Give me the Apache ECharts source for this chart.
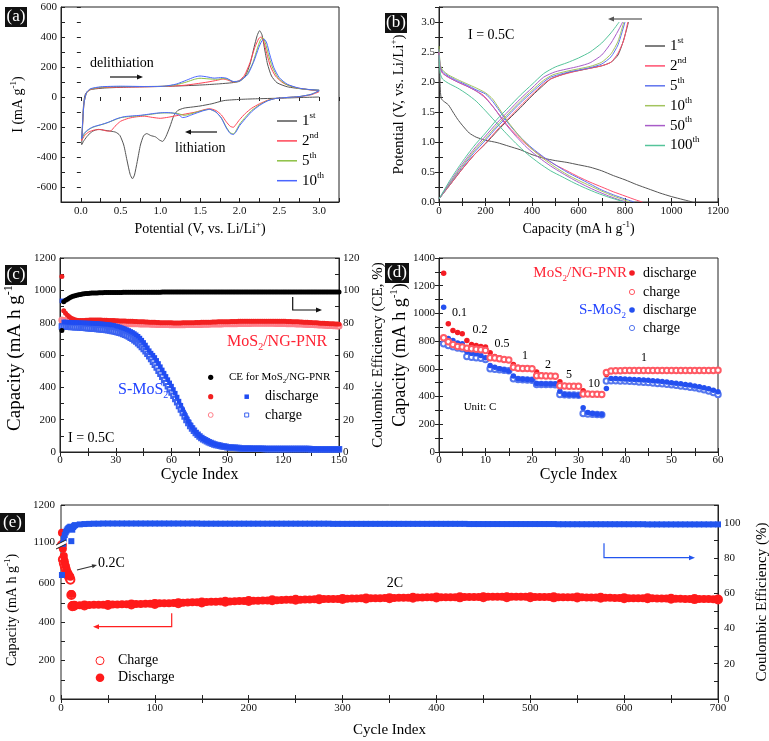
<!DOCTYPE html>
<html><head><meta charset="utf-8">
<script src="https://cdn.jsdelivr.net/npm/echarts@6/dist/echarts.min.js"></script>
<style>html,body{margin:0;padding:0;background:#fff}#c{width:769px;height:741px}</style>
</head><body><div id="c"></div><script>
// ---------------- DATA ----------------
// (a) CV curves: [potential V, current mA/g]
const cv1st = [[3.0,0],[2.8,-3],[2.5,-8],[2.2,-12],[2.0,-16],[1.8,-24],[1.65,-45],[1.5,-60],[1.4,-67],[1.3,-74],[1.22,-90],[1.17,-125],[1.12,-200],[1.07,-265],[1.03,-296],[0.99,-287],[0.94,-266],[0.88,-257],[0.83,-244],[0.79,-258],[0.75,-320],[0.71,-430],[0.675,-520],[0.65,-545],[0.62,-515],[0.58,-420],[0.54,-320],[0.49,-255],[0.44,-235],[0.38,-228],[0.3,-222],[0.22,-216],[0.15,-228],[0.09,-255],[0.04,-290],[0.01,-318],[0.02,-220],[0.03,-80],[0.05,10],[0.09,42],[0.15,52],[0.3,60],[0.6,66],[1.0,70],[1.3,75],[1.55,81],[1.75,88],[1.9,95],[2.0,105],[2.07,140],[2.13,220],[2.18,330],[2.22,410],[2.25,442],[2.28,415],[2.31,330],[2.35,220],[2.4,140],[2.47,95],[2.6,68],[2.8,53],[3.0,45]];
const cv2nd = [[3.0,35],[2.9,15],[2.75,2],[2.6,-3],[2.45,-10],[2.35,-22],[2.25,-45],[2.15,-75],[2.07,-110],[2.0,-150],[1.95,-185],[1.92,-202],[1.88,-195],[1.83,-165],[1.77,-120],[1.7,-90],[1.62,-78],[1.55,-85],[1.45,-100],[1.35,-110],[1.2,-125],[1.1,-135],[1.0,-142],[0.9,-136],[0.8,-128],[0.7,-132],[0.6,-142],[0.5,-162],[0.43,-195],[0.37,-228],[0.32,-226],[0.25,-217],[0.17,-220],[0.1,-233],[0.05,-255],[0.01,-290],[0.02,-200],[0.04,-40],[0.07,25],[0.12,50],[0.25,62],[0.5,66],[0.8,68],[1.1,72],[1.3,78],[1.45,88],[1.6,100],[1.72,112],[1.79,120],[1.85,113],[1.92,100],[1.99,108],[2.06,145],[2.13,230],[2.19,330],[2.24,390],[2.27,400],[2.3,375],[2.34,290],[2.39,200],[2.45,140],[2.55,92],[2.7,63],[2.85,50],[3.0,40]];
const cv5th = [[3.0,42],[2.9,18],[2.75,3],[2.6,-3],[2.45,-10],[2.35,-24],[2.25,-52],[2.15,-90],[2.07,-135],[2.0,-180],[1.95,-228],[1.92,-246],[1.88,-238],[1.83,-200],[1.77,-140],[1.7,-100],[1.62,-82],[1.55,-88],[1.45,-102],[1.35,-118],[1.3,-122],[1.22,-110],[1.1,-106],[1.0,-107],[0.9,-114],[0.8,-121],[0.7,-127],[0.6,-131],[0.5,-138],[0.4,-158],[0.3,-178],[0.2,-193],[0.12,-210],[0.06,-235],[0.01,-280],[0.02,-190],[0.04,-40],[0.07,25],[0.12,52],[0.25,65],[0.5,70],[0.8,70],[1.05,72],[1.2,82],[1.33,100],[1.43,118],[1.5,125],[1.6,121],[1.72,118],[1.8,124],[1.86,116],[1.93,101],[2.0,108],[2.08,140],[2.16,220],[2.22,320],[2.26,380],[2.29,395],[2.32,365],[2.36,285],[2.41,200],[2.48,130],[2.58,85],[2.72,60],[2.85,50],[3.0,45]];
const cv10th = [[3.0,42],[2.9,18],[2.75,3],[2.6,-3],[2.45,-10],[2.35,-26],[2.25,-56],[2.15,-98],[2.07,-145],[2.0,-190],[1.95,-235],[1.92,-250],[1.88,-243],[1.83,-205],[1.77,-142],[1.7,-100],[1.62,-82],[1.55,-90],[1.45,-108],[1.38,-122],[1.32,-134],[1.28,-137],[1.23,-118],[1.15,-106],[1.05,-104],[0.95,-108],[0.85,-115],[0.75,-122],[0.65,-126],[0.55,-131],[0.45,-145],[0.35,-168],[0.25,-185],[0.15,-200],[0.08,-222],[0.03,-250],[0.01,-278],[0.02,-190],[0.04,-40],[0.07,28],[0.12,55],[0.25,68],[0.5,72],[0.8,70],[1.05,72],[1.2,86],[1.33,112],[1.43,133],[1.5,140],[1.58,135],[1.68,126],[1.78,130],[1.84,124],[1.92,103],[2.0,108],[2.1,150],[2.18,240],[2.24,330],[2.28,375],[2.31,385],[2.34,360],[2.38,280],[2.43,195],[2.5,128],[2.6,85],[2.74,60],[2.87,50],[3.0,45]];

// (b) galvanostatic curves: [capacity mAh/g, potential V]
const dis1st = [[0,2.6],[3,2.2],[6,1.85],[10,1.72],[20,1.68],[40,1.62],[60,1.5],[80,1.38],[100,1.28],[130,1.15],[160,1.08],[200,1.03],[250,0.99],[300,0.93],[350,0.87],[400,0.79],[450,0.73],[500,0.69],[550,0.66],[600,0.62],[650,0.58],[700,0.52],[750,0.44],[800,0.37],[850,0.29],[900,0.22],[950,0.15],[1000,0.09],[1050,0.04],[1090,0.0]];
const cha1st = [[0,0.05],[20,0.15],[50,0.3],[100,0.55],[150,0.78],[200,0.97],[250,1.18],[300,1.38],[350,1.57],[400,1.77],[450,1.95],[480,2.05],[520,2.11],[560,2.16],[600,2.19],[650,2.23],[700,2.27],[740,2.33],[770,2.45],[790,2.65],[805,2.85],[815,3.0]];
const dis2nd = [[0,2.5],[5,2.25],[15,2.15],[40,2.08],[80,2.0],[120,1.93],[160,1.85],[190,1.78],[220,1.65],[260,1.45],[300,1.25],[350,1.05],[400,0.88],[450,0.74],[500,0.62],[550,0.52],[600,0.42],[650,0.33],[700,0.25],[750,0.17],[800,0.1],[850,0.03],[875,0.0]];
const cha2nd = [[0,0.05],[50,0.3],[100,0.55],[150,0.78],[200,0.98],[250,1.2],[300,1.4],[350,1.6],[400,1.79],[450,1.97],[480,2.05],[520,2.11],[600,2.19],[700,2.27],[740,2.33],[770,2.48],[795,2.7],[812,3.0]];
const dis5th = [[0,2.55],[5,2.28],[15,2.18],[40,2.1],[80,2.02],[120,1.95],[160,1.87],[200,1.8],[230,1.68],[260,1.52],[300,1.3],[350,1.08],[400,0.9],[450,0.75],[500,0.62],[550,0.5],[600,0.4],[650,0.3],[700,0.2],[750,0.12],[800,0.05],[840,0.0]];
const cha5th = [[0,0.05],[50,0.32],[100,0.58],[150,0.82],[200,1.03],[250,1.25],[300,1.45],[350,1.65],[400,1.83],[450,2.0],[480,2.08],[550,2.16],[650,2.24],[700,2.3],[740,2.42],[770,2.62],[800,3.0]];
const dis10th = [[0,2.6],[5,2.3],[15,2.2],[40,2.12],[80,2.04],[120,1.97],[160,1.9],[200,1.82],[230,1.72],[260,1.55],[300,1.32],[350,1.08],[400,0.88],[450,0.72],[500,0.58],[550,0.46],[600,0.36],[650,0.27],[700,0.18],[750,0.1],[800,0.03],[820,0.0]];
const cha10th = [[0,0.05],[50,0.33],[100,0.6],[150,0.85],[200,1.06],[250,1.28],[300,1.48],[350,1.68],[400,1.86],[450,2.03],[490,2.12],[550,2.18],[650,2.26],[700,2.33],[740,2.47],[770,2.68],[795,3.0]];
const dis50th = [[0,2.5],[5,2.25],[15,2.15],[40,2.08],[80,2.0],[120,1.93],[160,1.85],[200,1.73],[240,1.55],[280,1.33],[330,1.1],[380,0.9],[430,0.74],[480,0.6],[530,0.48],[580,0.37],[630,0.27],[680,0.18],[730,0.1],[780,0.03],[805,0.0]];
const cha50th = [[0,0.05],[50,0.35],[100,0.63],[150,0.88],[200,1.1],[250,1.32],[300,1.52],[350,1.72],[400,1.9],[450,2.08],[500,2.17],[600,2.26],[650,2.32],[700,2.45],[740,2.65],[770,2.85],[790,3.0]];
const dis100th = [[0,2.45],[5,2.15],[15,2.05],[40,1.98],[80,1.9],[120,1.8],[160,1.68],[200,1.52],[240,1.35],[280,1.18],[330,0.98],[380,0.8],[430,0.65],[480,0.52],[530,0.42],[580,0.32],[630,0.23],[680,0.15],[730,0.08],[780,0.02],[795,0.0]];
const cha100th = [[0,0.05],[50,0.38],[100,0.67],[150,0.93],[200,1.15],[250,1.38],[300,1.58],[350,1.78],[400,1.96],[450,2.14],[500,2.25],[550,2.32],[600,2.4],[650,2.5],[700,2.65],[740,2.82],[775,3.0]];

// (c) cycling at 0.5C, cycles 1..150
const cCE = [75.1,93.0,93.8,94.5,95.2,95.8,96.3,96.7,97.0,97.3, 97.5,97.7,97.9,98.0,98.1,98.2,98.3,98.3,98.4,98.4, 98.5,98.5,98.5,98.6,98.6,98.6,98.6,98.7,98.7,98.7, 98.7,98.7,98.7,98.8,98.8,98.8,98.8,98.8,98.8,98.8, 98.8,98.8,98.8,98.8,98.8,98.8,98.8,98.8,98.8,98.8, 98.8,98.8,98.8,98.8,98.9,98.9,98.9,98.9,98.9,98.9, 98.9,98.9,98.9,98.9,98.9,98.9,98.9,98.9,98.9,98.9, 98.9,98.9,98.9,98.9,98.9,98.9,98.9,98.9,98.9,98.9, 98.9,98.9,98.9,98.9,98.9,98.9,98.9,98.9,98.9,98.9, 98.9,98.9,98.9,98.9,98.9,98.9,98.9,98.9,98.9,98.9, 98.9,98.9,98.9,98.9,98.9,98.9,98.9,98.9,98.9,98.9, 98.9,98.9,98.9,98.9,98.9,98.9,98.9,98.9,98.9,98.9, 98.9,98.9,98.9,98.9,98.9,98.9,98.9,98.9,98.9,98.9, 98.9,98.9,98.9,98.9,98.9,98.9,98.9,98.9,98.9,98.9, 98.9,98.9,98.9,98.9,98.9,98.9,98.9,98.9,98.9,98.9];
const cNgDis = [1086,873,858,846,836,828,822,818,815,813, 813,814,814,815,815,816,816,816,816,816, 816,816,815,815,815,814,814,813,813,812, 812,811,811,810,810,809,809,808,808,807, 807,806,806,805,805,804,804,803,803,802, 802,801,801,800,800,800,799,799,799,799, 798,798,798,798,798,799,799,799,799,800, 800,800,801,801,801,802,802,802,803,803, 803,804,804,804,805,805,805,806,806,806, 806,807,807,807,807,808,808,808,808,808, 808,809,809,809,809,809,809,809,809,809, 809,809,809,809,809,809,808,808,808,808, 808,807,807,807,806,806,805,805,804,804, 803,803,802,801,801,800,799,799,798,797, 797,796,795,795,794,793,793,792,791,790];
const cNgCha = [817,814,811,808,806,804,803,802,801,800, 800,801,801,801,801,801,801,800,800,800, 800,799,799,799,798,798,798,797,797,797, 796,796,796,795,795,795,794,794,794,793, 793,793,792,792,792,791,791,791,790,790, 790,789,789,789,788,788,788,788,787,787, 787,787,787,787,787,787,787,788,788,788, 788,788,789,789,789,789,790,790,790,790, 791,791,791,792,792,792,792,793,793,793, 793,794,794,794,794,795,795,795,795,795, 795,795,796,796,796,796,796,796,796,796, 796,796,796,796,796,795,795,795,795,795, 795,794,794,794,793,793,792,792,791,791, 790,790,789,789,788,788,787,787,786,785, 785,784,784,783,782,782,781,781,780,780];
const cSDis = [935,805,804,803,803,802,802,801,801,800, 800,799,799,798,798,797,797,796,795,795, 794,793,792,791,790,789,787,785,783,780, 777,774,770,766,762,757,752,746,740,733, 725,716,705,692,678,662,645,627,612,599, 585,567,548,528,508,488,468,448,428,408, 387,364,340,315,289,262,236,212,190,170, 152,136,122,110,99,90,82,75,69,64, 58,53,49,45,42,39,37,35,33,31, 30,29,28,27,26,25,24,23,22,22, 23,22,22,22,22,21,21,21,21,21, 21,20,20,20,20,20,20,20,20,20, 20,20,19,19,19,19,19,19,19,19, 19,19,19,19,19,19,19,18,18,18, 18,18,18,18,18,18,18,18,18,18];
const cSCha = [776,775,775,774,774,773,773,772,772,771, 770,769,768,767,766,765,764,763,762,761, 760,759,758,757,755,753,751,749,747,744, 741,738,734,730,725,720,714,707,700,692, 683,673,662,650,637,623,608,592,575,558, 540,522,503,484,465,446,427,407,388,368, 348,328,307,285,263,241,219,198,179,161, 145,131,118,106,96,87,79,72,66,61, 56,51,47,44,41,38,36,34,32,30, 29,28,27,26,25,24,23,22,21,21, 21,21,20,20,20,20,20,20,20,19, 19,19,19,19,19,19,19,19,19,19, 18,18,18,18,18,18,18,18,18,18, 18,18,18,18,17,17,17,17,17,17, 17,17,17,17,17,17,17,17,17,17];

// (d) rate capability, cycles 1..60
const dNgDis = [1290,925,877,862,853,805,776,769,761,757, 716,689,680,670,665,632,612,608,605,603, 577,558,553,550,548,507,480,478,476,475, 442,421,420,419,418,560,585,588,589,590, 590,590,591,591,591,591,591,591,591,591, 591,591,591,591,591,591,591,591,591,591];
const dNgCha = [824,795,776,761,757,749,745,742,738,733, 680,678,673,668,664,612,605,603,602,600, 550,550,548,548,547,478,476,475,474,474, 418,418,417,416,415,574,584,586,587,588, 588,589,589,589,589,589,589,589,589,589, 589,589,589,589,589,589,589,589,589,590];
const dSDis = [1045,819,805,786,781,725,713,709,697,680, 625,612,600,593,584,548,528,525,523,522, 495,492,490,490,490,439,415,413,412,410, 319,285,278,273,270,459,531,530,528,527, 525,524,522,520,518,515,512,509,505,500, 496,492,488,483,477,471,464,456,446,434];
const dSCha = [781,769,760,750,745,689,684,680,676,668, 600,597,593,590,586,528,524,522,520,518, 488,488,487,487,486,415,413,412,411,410, 278,275,272,270,268,512,515,514,513,512, 510,508,506,504,501,498,495,492,489,485, 481,477,473,468,463,457,450,441,430,415];
const dRateLabels = ['0.1','0.2','0.5','1','2','5','10','1'];

// (e) long cycling: cycles 1..14 then every 5th cycle 15..700
const eDisFirst = [1125,780,743,715,692,665,655,644,640,635,545,487,487,487];
const eDisLong = [487,487,488,488,489,489,490,490,491,491, 492,492,493,493,494,495,495,496,497,497, 498,499,500,500,501,502,503,503,504,505, 505,506,507,507,508,509,509,510,511,511, 512,512,513,513,514,515,515,516,516,517, 517,518,518,519,519,520,520,521,521,522, 522,523,523,523,524,524,525,525,525,526, 526,526,527,527,527,528,528,528,529,529, 529,529,530,530,530,530,530,531,531,531, 531,531,531,531,531,531,531,531,530,530, 530,530,530,529,529,529,528,528,528,527, 527,527,526,526,526,525,525,525,524,524, 524,523,523,523,522,522,522,521,521,521, 520,520,520,519,519,519,518,518];
const eCEFirst = [70.3,88,91,93,94.5,95.5,96.3,96.9,97.3,97.7,89.5,96,97.5,98.2];
const eCELong = [98.6,99.0,99.2,99.3,99.4,99.4,99.5,99.5,99.5,99.5, 99.5,99.5,99.5,99.5,99.5,99.5,99.5,99.5,99.5,99.5, 99.5,99.5,99.5,99.5,99.5,99.5,99.5,99.4,99.4,99.4, 99.4,99.4,99.4,99.4,99.4,99.4,99.4,99.4,99.4,99.4, 99.4,99.4,99.4,99.4,99.4,99.4,99.4,99.4,99.4,99.4, 99.4,99.4,99.4,99.4,99.4,99.3,99.3,99.3,99.3,99.3, 99.3,99.3,99.3,99.3,99.3,99.3,99.3,99.3,99.3,99.3, 99.3,99.3,99.3,99.3,99.3,99.3,99.3,99.3,99.3,99.3, 99.3,99.3,99.3,99.3,99.2,99.2,99.2,99.2,99.2,99.2, 99.2,99.2,99.2,99.2,99.2,99.2,99.2,99.2,99.2,99.2, 99.2,99.2,99.2,99.1,99.1,99.1,99.1,99.1,99.1,99.1, 99.1,99.1,99.1,99.1,99.1,99.1,99.1,99.1,99.1,99.1, 99.1,99.1,99.0,99.0,99.0,99.0,99.0,99.0,99.0,99.0, 99.0,99.0,99.0,99.0,99.0,99.0,99.0,99.0];
const eChaFirst = [800,725,705,690,675,660,650,640,630,620,540,482,483,484];
const eChaLong = [486,488,491,494,498,501,505,509,513,516,518,520,522,524,526,527,528,529,529,529,528,527,526,524,523,521,519,517]; // every 25th cycle 25..700

// ---------------- BUILD ----------------
const FONT = '"Liberation Serif","Times New Roman",serif';
const AX = '#222';
function rt(fs, color) {
  color = color || '#000';
  return {
    n: {fontFamily: FONT, fontSize: fs, color: color, lineHeight: Math.round(fs * 1.3)},
    s: {fontFamily: FONT, fontSize: Math.round(fs * 0.62), color: color, verticalAlign: 'top', lineHeight: Math.round(fs * 0.8)},
    b: {fontFamily: FONT, fontSize: Math.round(fs * 0.62), color: color, verticalAlign: 'bottom', lineHeight: Math.round(fs * 0.8)}
  };
}
function fmt(step, digits, lo, hi) {
  return function (v) {
    const k = v / step;
    return (Math.abs(k - Math.round(k)) < 1e-6 && v >= lo - 1e-9 && v <= hi + 1e-9) ? (Math.abs(v) < 1e-9 ? 0 : v).toFixed(digits) : '';
  };
}
function ax(o) {
  return Object.assign({
    type: 'value', scale: false,
    axisLine: {show: true, onZero: false, lineStyle: {color: AX, width: 1}},
    axisTick: {show: true, inside: true, length: 4, lineStyle: {color: AX, width: 1}},
    axisLabel: {show: true, color: '#111', fontFamily: FONT, fontSize: 11, margin: 3},
    splitLine: {show: false}
  }, o);
}
function mir(o) { return ax(Object.assign({axisLine: {show: false}, axisLabel: {show: false}}, o)); }
function nameStyle(fs) { return {fontFamily: FONT, fontSize: fs, color: '#000', rich: rt(fs)}; }
const CAP = '{n|Capacity (mA h g}{s|-1}{n|)}';
const POT = '{n|Potential (V, vs. Li/Li}{s|+}{n|)}';

const grids = [
  {left: 61, top: 7, width: 278, height: 195},
  {left: 439, top: 7, width: 279, height: 195},
  {left: 60, top: 258, width: 279, height: 194},
  {left: 439, top: 258, width: 279, height: 194},
  {left: 61, top: 505, width: 657, height: 194},
  {left: 61, top: 545, width: 657, height: 154, show: false},
  {left: 61, top: 505, width: 657, height: 37, show: false}
].map(g => Object.assign({show: true, borderColor: AX, borderWidth: 1, backgroundColor: 'transparent', containLabel: false, outerBoundsMode: 'none'}, g));

const xAxes = [
  ax({gridIndex: 0, min: -0.25, max: 3.25, interval: 0.25, axisLabel: {color: '#111', fontFamily: FONT, fontSize: 11, margin: 4, formatter: fmt(0.5, 1, 0, 3)}, name: POT, nameLocation: 'middle', nameGap: 18, nameTextStyle: nameStyle(14)}),
  mir({gridIndex: 0, position: 'top', min: -0.25, max: 3.25, interval: 0.25}),
  ax({gridIndex: 1, min: 0, max: 1200, interval: 100, axisLabel: {color: '#111', fontFamily: FONT, fontSize: 11, margin: 4, formatter: fmt(200, 0, 0, 1200)}, name: CAP, nameLocation: 'middle', nameGap: 18, nameTextStyle: nameStyle(14)}),
  mir({gridIndex: 1, position: 'top', min: 0, max: 1200, interval: 100}),
  ax({gridIndex: 2, min: 0, max: 150, interval: 15, axisLabel: {color: '#111', fontFamily: FONT, fontSize: 11, margin: 3, formatter: fmt(30, 0, 0, 150)}, name: '{n|Cycle Index}', nameLocation: 'middle', nameGap: 12, nameTextStyle: nameStyle(16)}),
  mir({gridIndex: 2, position: 'top', min: 0, max: 150, interval: 15}),
  ax({gridIndex: 3, min: 0, max: 60, interval: 5, axisLabel: {color: '#111', fontFamily: FONT, fontSize: 11, margin: 3, formatter: fmt(10, 0, 0, 60)}, name: '{n|Cycle Index}', nameLocation: 'middle', nameGap: 12, nameTextStyle: nameStyle(16)}),
  mir({gridIndex: 3, position: 'top', min: 0, max: 60, interval: 5}),
  ax({gridIndex: 4, min: 0, max: 700, interval: 50, axisLabel: {color: '#111', fontFamily: FONT, fontSize: 11, margin: 4, formatter: fmt(100, 0, 0, 700)}, name: '{n|Cycle Index}', nameLocation: 'middle', nameGap: 21, nameTextStyle: nameStyle(15)}),
  mir({gridIndex: 4, position: 'top', min: 0, max: 700, interval: 50}),
  ax({gridIndex: 5, min: 0, max: 700, show: false}),
  ax({gridIndex: 6, min: 0, max: 700, show: false})
];
const yAxes = [
  ax({gridIndex: 0, min: -700, max: 600, interval: 100, axisLabel: {color: '#111', fontFamily: FONT, fontSize: 11, margin: 4, formatter: fmt(200, 0, -600, 600)}, name: '{n|I (mA g}{s|-1}{n|)}', nameLocation: 'middle', nameRotate: 90, nameGap: 34, nameTextStyle: nameStyle(14)}),
  mir({gridIndex: 0, position: 'right', min: -700, max: 600, interval: 100}),
  ax({gridIndex: 1, min: 0, max: 3.25, interval: 0.25, axisLabel: {color: '#111', fontFamily: FONT, fontSize: 11, margin: 4, formatter: fmt(0.5, 1, 0, 3)}, name: POT, nameLocation: 'middle', nameRotate: 90, nameGap: 30, nameTextStyle: nameStyle(15)}),
  mir({gridIndex: 1, position: 'right', min: 0, max: 3.25, interval: 0.25}),
  ax({gridIndex: 2, min: 0, max: 1200, interval: 100, axisLabel: {color: '#111', fontFamily: FONT, fontSize: 11, margin: 4, formatter: fmt(200, 0, 0, 1200)}, name: CAP, nameLocation: 'middle', nameRotate: 90, nameGap: 32, nameTextStyle: nameStyle(19)}),
  ax({gridIndex: 2, position: 'right', min: 0, max: 120, interval: 10, axisLabel: {color: '#111', fontFamily: FONT, fontSize: 11, margin: 4, formatter: fmt(20, 0, 0, 120)}, name: '{n|Coulombic Efficiency (CE, %)}', nameLocation: 'middle', nameRotate: 90, nameGap: 29, nameTextStyle: nameStyle(15)}),
  ax({gridIndex: 3, min: 0, max: 1400, interval: 100, axisLabel: {color: '#111', fontFamily: FONT, fontSize: 11, margin: 4, formatter: fmt(200, 0, 0, 1400)}, name: CAP, nameLocation: 'middle', nameRotate: 90, nameGap: 23, nameTextStyle: nameStyle(18)}),
  mir({gridIndex: 3, position: 'right', min: 0, max: 1400, interval: 100}),
  ax({gridIndex: 4, position: 'right', min: 0, max: 110, interval: 10, axisLabel: {color: '#111', fontFamily: FONT, fontSize: 11, margin: 6, formatter: fmt(20, 0, 0, 100)}, name: '{n|Coulombic Efficiency (%)}', nameLocation: 'middle', nameRotate: 90, nameGap: 34, nameTextStyle: nameStyle(15)}),
  ax({gridIndex: 5, position: 'left', min: 0, max: 800, interval: 100, axisLine: {show: false}, axisLabel: {color: '#111', fontFamily: FONT, fontSize: 11, margin: 6, formatter: fmt(200, 0, 0, 600)}}),
  ax({gridIndex: 6, position: 'left', min: 1100, max: 1200, interval: 100, axisLine: {show: false}, axisLabel: {color: '#111', fontFamily: FONT, fontSize: 11, margin: 6, formatter: fmt(100, 0, 1100, 1200)}}),
  ax({gridIndex: 4, position: 'left', min: 0, max: 1, axisLine: {show: false}, axisTick: {show: false}, axisLabel: {show: false}, name: CAP, nameLocation: 'middle', nameRotate: 90, nameGap: 40, nameTextStyle: Object.assign(nameStyle(14), {padding: [0, 16, 0, 0]})})
];

const series = [];
function line(name, xi, data, color) {
  series.push({type: 'line', name: name, xAxisIndex: xi, yAxisIndex: xi, data: data, symbol: 'none', smooth: 0.2, clip: true,
    lineStyle: {color: color, width: 1}, itemStyle: {color: color}, emphasis: {disabled: true}});
}
// (a)
line('a1', 0, cv1st, '#555555');
line('a2', 0, cv2nd, '#ff4455');
line('a5', 0, cv5th, '#8cc043');
line('a10', 0, cv10th, '#4a66ff');
// (b)
[['b1', dis1st, cha1st, '#555555'], ['b2', dis2nd, cha2nd, '#ff4f6e'], ['b5', dis5th, cha5th, '#5f73ee'],
 ['b10', dis10th, cha10th, '#a3c45e'], ['b50', dis50th, cha50th, '#a85cc8'], ['b100', dis100th, cha100th, '#55c49a']]
  .forEach(r => { line(r[0], 2, r[1], r[3]); line(r[0], 2, r[2], r[3]); });

function sc(name, xi, yi, data, symbol, size, color, z) {
  series.push({type: 'scatter', name: name, xAxisIndex: xi, yAxisIndex: yi, data: data, symbol: symbol, symbolSize: size, clip: true,
    itemStyle: {color: color, borderWidth: 1, opacity: 1}, emphasis: {disabled: true}, z: z || 2});
}
const idx = arr => arr.map((v, i) => [i + 1, v]);
// (c)
sc('cNgCha', 4, 4, idx(cNgCha), 'emptyCircle', 5, '#ff7f8a', 2);
sc('cNgDis', 4, 4, idx(cNgDis), 'circle', 5, '#f22020', 3);
sc('cSCha', 4, 4, idx(cSCha), 'emptyRect', 4.5, '#3a62f0', 4);
sc('cSDis', 4, 4, idx(cSDis), 'rect', 4.5, '#1f4cf2', 5);
sc('cCE', 4, 5, idx(cCE), 'circle', 5, '#000000', 6);
// (d)
sc('dSCha', 6, 6, idx(dSCha), 'emptyCircle', 5.5, '#5577ee', 2);
sc('dSDis', 6, 6, idx(dSDis), 'circle', 5.5, '#2450f0', 3);
sc('dNgDis', 6, 6, idx(dNgDis), 'circle', 5.5, '#f41c24', 4);
sc('dNgCha', 6, 6, idx(dNgCha), 'emptyCircle', 5.5, '#ff5a64', 5);
// (e)
const eCycFirst = eDisFirst.map((v, i) => i + 1);
const eCycLong = eDisLong.map((v, i) => 15 + 5 * i);
const eChaCycLong = eChaLong.map((v, i) => 25 + 25 * i);
const eDis = eCycFirst.map((c, i) => [c, eDisFirst[i]]).concat(eCycLong.map((c, i) => [c, eDisLong[i]]));
const eCha = eCycFirst.map((c, i) => [c, eChaFirst[i]]).concat(eChaCycLong.map((c, i) => [c, eChaLong[i]]));
const eCE = eCycFirst.map((c, i) => [c, eCEFirst[i]]).concat(eCycLong.map((c, i) => [c, eCELong[i]]));
sc('eChaLo', 10, 9, eCha, 'emptyCircle', 8, '#ff2020', 2);
sc('eDisLo', 10, 9, eDis, 'circle', 8, '#ff1a1a', 3);
sc('eChaHi', 11, 10, eCha, 'emptyCircle', 8, '#ff2020', 2);
sc('eDisHi', 11, 10, eDis, 'circle', 8, '#ff1a1a', 3);
sc('eCE', 8, 8, eCE, 'rect', 6, '#2255ee', 4);

// legends (a), (b)
const ord = n => ({1: 'st', 2: 'nd', 3: 'rd'}[n] || 'th');
function legend(left, top, names) {
  return {left: left, top: top, orient: 'vertical', icon: 'rect', itemWidth: 20, itemHeight: 1.5, itemGap: 2.4, selectedMode: false,
    data: names, formatter: nm => { const n = nm.slice(1); return '{n|' + n + '}{s|' + ord(+n) + '}'; },
    textStyle: {fontFamily: FONT, fontSize: 15, color: '#000', rich: rt(15)}};
}

// decorations
const G = [];
function txt(x, y, t, fs, color, align) {
  G.push({type: 'text', x: x, y: y, z: 100, style: {text: t, rich: rt(fs, color), align: align || 'left', verticalAlign: 'middle', fontFamily: FONT, fontSize: fs, fill: color || '#000'}});
}
function arrow(pts, color, hl, hw) {
  hl = hl || 6; hw = hw || 2.5;
  const n = pts.length, p1 = pts[n - 2], p2 = pts[n - 1];
  const dx = p2[0] - p1[0], dy = p2[1] - p1[1], L = Math.hypot(dx, dy), ux = dx / L, uy = dy / L;
  const bx = p2[0] - ux * hl, by = p2[1] - uy * hl;
  G.push({type: 'polyline', z: 100, shape: {points: pts.slice(0, n - 1).concat([[bx + ux, by + uy]])}, style: {stroke: color, lineWidth: 1.2, fill: null}});
  G.push({type: 'polygon', z: 100, shape: {points: [[p2[0], p2[1]], [bx - uy * hw, by + ux * hw], [bx + uy * hw, by - ux * hw]]}, style: {fill: color}});
}
function tag(x, y, w, h, t) {
  G.push({type: 'rect', z: 100, shape: {x: x, y: y, width: w, height: h}, style: {fill: '#111'}});
  G.push({type: 'text', z: 101, x: x + w / 2, y: y + h / 2, style: {text: t, fill: '#fff', fontFamily: FONT, fontSize: 17, align: 'center', verticalAlign: 'middle'}});
}
function dot(cx, cy, r, fill, stroke) {
  G.push({type: 'circle', z: 100, shape: {cx: cx, cy: cy, r: r}, style: {fill: fill, stroke: stroke || null, lineWidth: 1}});
}
function sq(cx, cy, s, fill, stroke) {
  G.push({type: 'rect', z: 100, shape: {x: cx - s / 2, y: cy - s / 2, width: s, height: s}, style: {fill: fill, stroke: stroke || null, lineWidth: 1}});
}
tag(5, 7, 22, 20, '(a)'); tag(385, 13, 22, 20, '(b)'); tag(5, 265, 22, 20, '(c)'); tag(385, 263, 24, 20, '(d)'); tag(0, 513, 25, 19, '(e)');
// (a)
txt(90, 63, '{n|delithiation}', 14); arrow([[110, 77], [143, 77]], '#111');
txt(175, 148, '{n|lithiation}', 14); arrow([[217, 132], [185, 132]], '#111');
// (b)
txt(468, 35, '{n|I = 0.5C}', 14); arrow([[642, 19], [608, 19]], '#555');
// (c)
txt(68, 438, '{n|I = 0.5C}', 14);
txt(118, 390, '{n|S-MoS}{b|2}', 16, '#2244ff');
txt(227, 342, '{n|MoS}{b|2}{n|/NG-PNR}', 16, '#ff2233');
arrow([[292.7, 297], [292.7, 310], [322, 310]], '#111');
dot(210.7, 377.3, 2.6, '#000'); txt(229, 377.3, '{n|CE for MoS}{b|2}{n|/NG-PNR}', 11);
dot(210.7, 396.7, 2.6, '#f22020'); sq(246.7, 396.7, 4.5, '#1f4cf2'); txt(265, 396.7, '{n|discharge}', 14);
dot(210.7, 415, 2.4, '#fff', '#ff7f8a'); sq(246.7, 415, 4, '#fff', '#3a62f0'); txt(265, 415, '{n|charge}', 14);
// (d)
txt(627, 273, '{n|MoS}{b|2}{n|/NG-PNR}', 15, '#ff2233', 'right');
dot(632, 273, 2.8, '#f41c24'); txt(643, 273, '{n|discharge}', 14);
dot(632, 292, 2.6, '#fff', '#ff5a64'); txt(643, 292, '{n|charge}', 14);
txt(626, 310, '{n|S-MoS}{b|2}', 15, '#2244ff', 'right');
dot(632, 310, 2.8, '#2450f0'); txt(643, 310, '{n|discharge}', 14);
dot(632, 328, 2.6, '#fff', '#5577ee'); txt(643, 328, '{n|charge}', 14);
const dRatePos = [[459.5, 313], [480, 330], [502, 344], [525, 356], [548, 365], [569, 375], [594, 384], [644, 358]];
dRateLabels.forEach((t, i) => txt(dRatePos[i][0], dRatePos[i][1], '{n|' + t + '}', 12, '#000', 'center'));
txt(480, 407.3, '{n|Unit: C}', 11, '#000', 'center');
// (e)
txt(98, 563, '{n|0.2C}', 14); arrow([[77, 570], [97, 565]], '#333', 5, 2);
txt(395, 583, '{n|2C}', 14, '#000', 'center');
arrow([[171.7, 613.3], [171.7, 626.7], [93, 626.7]], '#ff2020');
arrow([[604, 543.3], [604, 557.7], [695, 557.7]], '#2255ee');
dot(100, 660.7, 4, '#fff', '#ff2020'); txt(118, 660.7, '{n|Charge}', 14);
dot(100, 677.7, 4.3, '#ff1a1a'); txt(118, 677.7, '{n|Discharge}', 14);
// axis break
G.push({type: 'polygon', z: 100, shape: {points: [[56, 545], [66, 540], [66, 544], [56, 549]]}, style: {fill: '#fff'}});
G.push({type: 'line', z: 101, shape: {x1: 56, y1: 545, x2: 66, y2: 540}, style: {stroke: '#222', lineWidth: 1}});
G.push({type: 'line', z: 101, shape: {x1: 56, y1: 549, x2: 66, y2: 544}, style: {stroke: '#222', lineWidth: 1}});

const chart = echarts.init(document.getElementById('c'), null, {renderer: 'canvas'});
chart.setOption({
  animation: false,
  backgroundColor: '#fff',
  textStyle: {fontFamily: FONT},
  grid: grids, xAxis: xAxes, yAxis: yAxes, series: series,
  legend: [legend(272, 106, ['a1', 'a2', 'a5', 'a10']), legend(640, 31, ['b1', 'b2', 'b5', 'b10', 'b50', 'b100'])],
  graphic: G
});
</script></body></html>
